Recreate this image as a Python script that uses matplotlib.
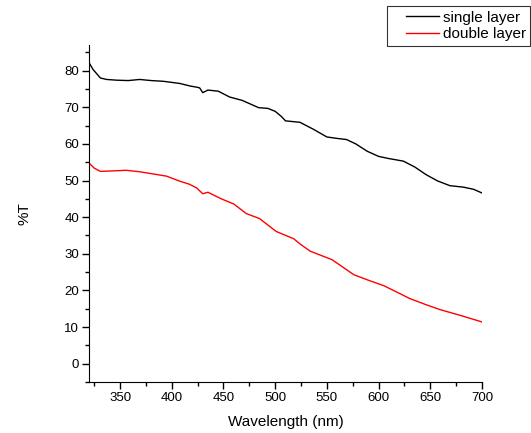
import matplotlib
matplotlib.use('Agg')
import matplotlib.pyplot as plt
import numpy as np
from matplotlib.ticker import MultipleLocator
from matplotlib.legend_handler import HandlerLine2D

plt.rcParams['font.family'] = ['Liberation Sans', 'DejaVu Sans']

# 透过率数据
wl_single = [320, 324, 331, 337, 347, 358, 369, 380, 392, 408, 418, 424, 427, 430, 435,
             445, 456, 468, 476, 484, 493, 500, 506, 510, 524, 537, 550, 560, 569,
             578, 589, 600, 610, 624, 635, 646, 657, 669, 682, 692, 700]
t_single = [82.2, 80.3, 78.0, 77.6, 77.4, 77.3, 77.6, 77.3, 77.1, 76.5, 75.8, 75.5, 75.3,
            74.0, 74.7, 74.4, 72.8, 71.9, 70.9, 69.9, 69.7, 68.9, 67.5, 66.3, 65.9,
            64.0, 61.9, 61.5, 61.2, 60.0, 58.0, 56.6, 56.0, 55.3, 53.7, 51.6, 49.9,
            48.6, 48.2, 47.6, 46.6]

wl_double = [320, 325, 331, 340, 356, 369, 380, 395, 408, 417, 424, 430, 435, 448, 460,
             472, 485, 501, 518, 524, 534, 555, 576, 590, 605, 618, 630, 645, 659,
             680, 700]
t_double = [54.8, 53.4, 52.5, 52.6, 52.8, 52.4, 51.9, 51.2, 49.8, 49.0, 48.0, 46.4, 46.8,
            45.0, 43.6, 41.0, 39.6, 36.1, 34.1, 32.7, 30.7, 28.4, 24.3, 22.8, 21.3,
            19.5, 17.8, 16.2, 14.8, 13.1, 11.4]


# 图例线段只画在右边一段，左边留空
class PadLine(HandlerLine2D):
    def get_xdata(self, legend, xdescent, ydescent, width, height, fontsize):
        x = np.array([-xdescent + 0.3 * width, -xdescent + width])
        return x, x


fig = plt.figure(figsize=(5.31, 4.33), dpi=100)
ax = fig.add_axes([0.1676, 0.1178, 0.7401, 0.7782])

l1, = ax.plot(wl_single, t_single, color='black', lw=1.0, label='single layer')
l2, = ax.plot(wl_double, t_double, color='red', lw=1.0, label='double layer')

ax.set_xlim(320, 700)
ax.set_ylim(-5, 87)
ax.xaxis.set_major_locator(MultipleLocator(50))
ax.xaxis.set_minor_locator(MultipleLocator(25))
ax.yaxis.set_major_locator(MultipleLocator(10))
ax.yaxis.set_minor_locator(MultipleLocator(5))
ax.spines['top'].set_visible(False)
ax.spines['right'].set_visible(False)
ax.tick_params(which='major', direction='out', length=5, width=1, labelsize=9.5, pad=2)
ax.tick_params(which='minor', direction='out', length=3, width=1)

ax.set_xlabel('Wavelength (nm)', fontsize=11, labelpad=8)
ax.set_ylabel('%T', fontsize=11, labelpad=24)

leg = fig.legend(handles=[l1, l2], loc='upper right', bbox_to_anchor=(0.999, 0.986),
                 fontsize=11, frameon=True, fancybox=False, edgecolor='black',
                 handlelength=3.1, handletextpad=0.25, borderpad=0.3,
                 labelspacing=0.15, borderaxespad=0,
                 handler_map={l1: PadLine(), l2: PadLine()})
leg.get_frame().set_linewidth(0.8)

fig.savefig('out.png', dpi=100)
